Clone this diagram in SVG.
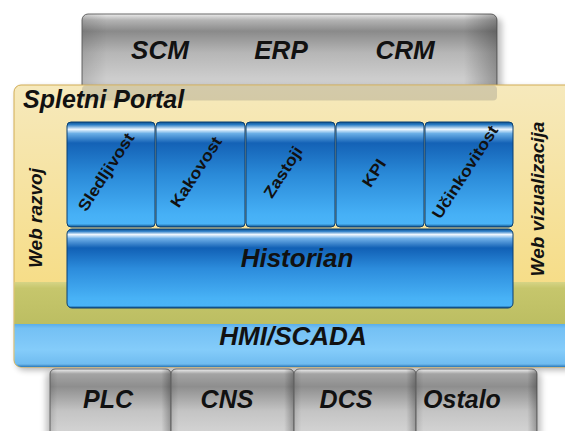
<svg xmlns="http://www.w3.org/2000/svg" width="565" height="431" viewBox="0 0 565 431">
<defs>
<linearGradient id="gTop" x1="0" y1="0" x2="0" y2="1">
<stop offset="0" stop-color="#ececec"/><stop offset="0.07" stop-color="#b4b4b4"/><stop offset="0.2" stop-color="#8a8a8a"/><stop offset="0.45" stop-color="#b6b6b6"/><stop offset="0.75" stop-color="#cdcdcd"/><stop offset="1" stop-color="#d4d4d4"/>
</linearGradient>
<linearGradient id="gBot" x1="0" y1="0" x2="0" y2="1">
<stop offset="0" stop-color="#f2f2f2"/><stop offset="0.07" stop-color="#a4a4a4"/><stop offset="0.25" stop-color="#8e8e8e"/><stop offset="0.6" stop-color="#c4c4c4"/><stop offset="1" stop-color="#d8d8d8"/>
</linearGradient>
<linearGradient id="gSide" x1="0" y1="0" x2="1" y2="0">
<stop offset="0" stop-color="#000" stop-opacity="0.12"/><stop offset="0.06" stop-color="#000" stop-opacity="0"/><stop offset="0.92" stop-color="#000" stop-opacity="0"/><stop offset="1" stop-color="#000" stop-opacity="0.28"/>
</linearGradient>
<linearGradient id="gPortal" x1="0" y1="0" x2="0" y2="1">
<stop offset="0" stop-color="#f6e9bc"/><stop offset="0.35" stop-color="#f6e3a2"/><stop offset="1" stop-color="#f6d872"/>
</linearGradient>
<linearGradient id="gOlive" x1="0" y1="0" x2="0" y2="1">
<stop offset="0" stop-color="#d6d486"/><stop offset="0.15" stop-color="#c6c66c"/><stop offset="1" stop-color="#bcbe62"/>
</linearGradient>
<linearGradient id="gHmi" x1="0" y1="0" x2="0" y2="1">
<stop offset="0" stop-color="#5aaeea"/><stop offset="0.1" stop-color="#74c0f4"/><stop offset="0.6" stop-color="#84ccfa"/><stop offset="0.93" stop-color="#70bcf0"/><stop offset="1" stop-color="#2a78b8"/>
</linearGradient>
<linearGradient id="gMod" x1="0" y1="0" x2="0" y2="1">
<stop offset="0" stop-color="#0b4f8f"/><stop offset="0.025" stop-color="#2a7cc4"/><stop offset="0.07" stop-color="#eef7ff"/><stop offset="0.11" stop-color="#6aaee6"/><stop offset="0.2" stop-color="#1462b6"/><stop offset="0.5" stop-color="#2a8ad8"/><stop offset="0.88" stop-color="#46b0f6"/><stop offset="0.97" stop-color="#4ab4f8"/><stop offset="1" stop-color="#0d4f88"/>
</linearGradient>
<linearGradient id="gHist" x1="0" y1="0" x2="0" y2="1">
<stop offset="0" stop-color="#0b4f8f"/><stop offset="0.03" stop-color="#3080c8"/><stop offset="0.07" stop-color="#f0f8ff"/><stop offset="0.12" stop-color="#70b0e8"/><stop offset="0.24" stop-color="#1160b5"/><stop offset="0.5" stop-color="#2c8cdc"/><stop offset="0.88" stop-color="#48b2f6"/><stop offset="0.97" stop-color="#4ab4f8"/><stop offset="1" stop-color="#0d4f88"/>
</linearGradient>
<filter id="sh" x="-10%" y="-10%" width="130%" height="130%"><feGaussianBlur stdDeviation="3"/></filter>
</defs>
<style>
.lbl{font-family:"Liberation Sans",Arial,sans-serif;font-weight:bold;font-style:italic;fill:#111;text-anchor:middle}
.big{font-size:26px}
.side{font-size:19px}
.col{font-family:"Liberation Sans",Arial,sans-serif;font-weight:bold;font-size:16px;fill:#111;text-anchor:middle}
.cell{stroke:#6a6a6a;stroke-width:1}
.mod{fill:url(#gMod);stroke:#0b3f70;stroke-width:1}
</style>

<!-- top gray box -->
<g id="top-systems">
<rect x="86" y="18" width="416" height="86" rx="6" fill="#000" opacity="0.25" filter="url(#sh)"/>
<rect x="82" y="14" width="415" height="86" rx="6" fill="url(#gTop)" class="cell"/>
<rect x="82" y="14" width="415" height="86" rx="6" fill="url(#gSide)"/>
<text class="lbl big" x="160" y="59">SCM</text>
<text class="lbl big" x="281" y="59">ERP</text>
<text class="lbl big" x="405" y="59">CRM</text>
</g>

<!-- portal -->
<g id="portal">
<rect x="17" y="88" width="560" height="282" rx="7" fill="#000" opacity="0.3" filter="url(#sh)"/>
<rect x="14" y="85" width="560" height="282" rx="7" fill="url(#gPortal)" stroke="#d2ad55" stroke-width="1"/>
<rect x="82" y="85.5" width="415" height="15" rx="4" fill="#7a7a7a" opacity="0.28"/>
<rect x="14.5" y="282" width="560" height="42" fill="url(#gOlive)"/>
<text class="lbl" style="font-size:25px;text-anchor:start" x="23" y="108">Spletni Portal</text>
<text class="lbl side" transform="translate(42,218) rotate(-90)">Web razvoj</text>
<text class="lbl side" transform="translate(544,199) rotate(-90)">Web vizualizacija</text>
</g>

<!-- HMI/SCADA -->
<g id="hmi-scada">
<path d="M14.5,324 H565 V367 H21 a7,7 0 0 1 -6.5,-7 Z" fill="url(#gHmi)"/>
<text class="lbl big" x="293" y="345">HMI/SCADA</text>
</g>

<!-- modules -->
<g id="module-sledljivost">
<rect class="mod" x="67" y="122" width="88" height="105" rx="4"/>
<text class="col" transform="translate(106,172) rotate(-57) scale(1.12,1)" y="5.5">Sledljivost</text>
</g>
<g id="module-kakovost">
<rect class="mod" x="156" y="122" width="89" height="105" rx="4"/>
<text class="col" transform="translate(196,172) rotate(-57) scale(1.12,1)" y="5.5">Kakovost</text>
</g>
<g id="module-zastoji">
<rect class="mod" x="246" y="122" width="89" height="105" rx="4"/>
<text class="col" transform="translate(283,172) rotate(-57) scale(1.12,1)" y="5.5">Zastoji</text>
</g>
<g id="module-kpi">
<rect class="mod" x="336" y="122" width="88" height="105" rx="4"/>
<text class="col" transform="translate(374,173) rotate(-57) scale(1.12,1)" y="5.5">KPI</text>
</g>
<g id="module-ucinkovitost">
<rect class="mod" x="425" y="122" width="88" height="105" rx="4"/>
<text class="col" transform="translate(465,172) rotate(-57) scale(1.12,1)" y="5.5">Učinkovitost</text>
</g>

<!-- historian -->
<g id="historian">
<rect x="67" y="229" width="446" height="79" rx="5" fill="url(#gHist)" stroke="#0b3f70" stroke-width="1"/>
<text class="lbl big" x="297" y="267">Historian</text>
</g>

<!-- bottom gray cells -->
<g id="bottom-systems">
<rect x="46" y="372" width="495" height="70" rx="6" fill="#000" opacity="0.25" filter="url(#sh)"/>
<g id="cell-plc">
<rect x="50" y="369" width="121" height="70" rx="5" fill="url(#gBot)" class="cell"/>
<rect x="50" y="369" width="121" height="70" rx="5" fill="url(#gSide)"/>
<text class="lbl big" style="font-size:25px" x="108" y="408">PLC</text>
</g>
<g id="cell-cns">
<rect x="171" y="369" width="123" height="70" rx="5" fill="url(#gBot)" class="cell"/>
<rect x="171" y="369" width="123" height="70" rx="5" fill="url(#gSide)"/>
<text class="lbl big" style="font-size:25px" x="227" y="408">CNS</text>
</g>
<g id="cell-dcs">
<rect x="294" y="369" width="122" height="70" rx="5" fill="url(#gBot)" class="cell"/>
<rect x="294" y="369" width="122" height="70" rx="5" fill="url(#gSide)"/>
<text class="lbl big" style="font-size:25px" x="346" y="408">DCS</text>
</g>
<g id="cell-ostalo">
<rect x="416" y="369" width="121" height="70" rx="5" fill="url(#gBot)" class="cell"/>
<rect x="416" y="369" width="121" height="70" rx="5" fill="url(#gSide)"/>
<text class="lbl big" style="font-size:25px" x="462" y="408">Ostalo</text>
</g>
</g>

<g id="connectors"></g>
</svg>
